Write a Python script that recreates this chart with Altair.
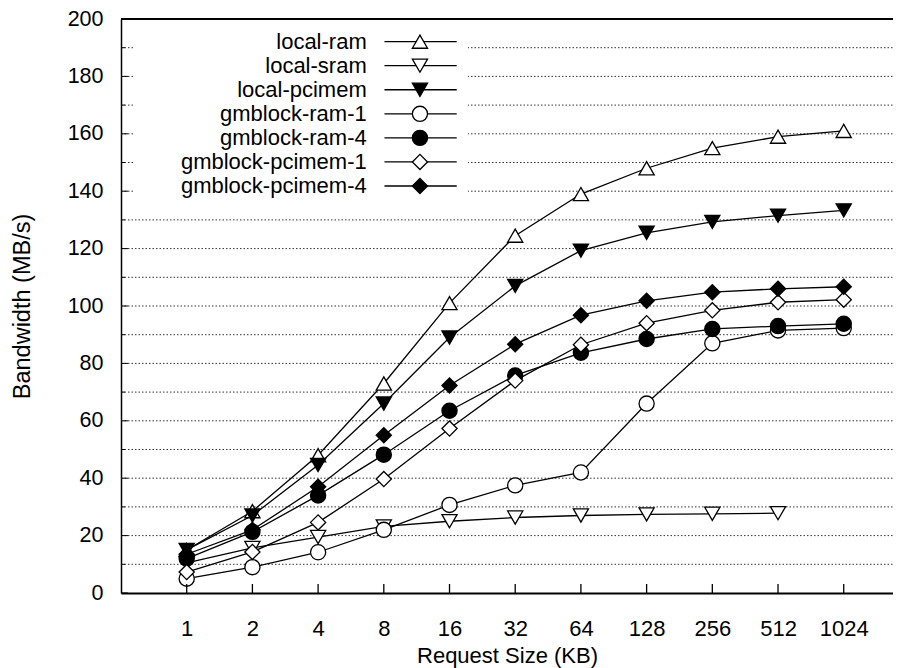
import altair as alt
import pandas as pd

# ---------------- data ----------------
sizes = ["1", "2", "4", "8", "16", "32", "64", "128", "256", "512", "1024"]
series_names = ["local-ram", "local-sram", "local-pcimem", "gmblock-ram-1",
                "gmblock-ram-4", "gmblock-pcimem-1", "gmblock-pcimem-4"]
local_ram = [15, 28.5, 48, 73, 101, 124.5, 139, 148, 155, 159, 161]
local_sram = [10.5, 15.7, 19.5, 23.2, 25, 26.3, 27, 27.4, 27.6, 27.8]
local_pcimem = [15, 27, 44.6, 66, 89, 107, 119.3, 125.5, 129.3, 131.5, 133.3]
gmblock_ram_1 = [5, 9, 14.2, 22, 30.7, 37.5, 42, 66, 87, 91.5, 92.3]
gmblock_ram_4 = [12, 21.3, 34, 48.2, 63.5, 75.8, 83.7, 88.5, 92, 93, 93.8]
gmblock_pcimem_1 = [7.3, 14.3, 24.6, 39.7, 57.3, 74, 86.5, 94, 98.5, 101.3, 102.2]
gmblock_pcimem_4 = [13.5, 22, 37, 55, 72.3, 86.7, 96.8, 101.8, 104.8, 106, 106.7]
series_values = [local_ram, local_sram, local_pcimem, gmblock_ram_1,
                 gmblock_ram_4, gmblock_pcimem_1, gmblock_pcimem_4]
y_label_values = list(range(0, 201, 20))
y_minor_values = list(range(10, 200, 20))
grid_values = list(range(10, 200, 10))

# ---------------- styles ----------------
shapes = ["triangle-up", "triangle-down", "triangle-down", "circle", "circle", "diamond", "diamond"]
fills = ["white", "white", "black", "white", "black", "white", "black"]
msizes = [230, 230, 230, 200, 200, 200, 200]
FONT = "Liberation Sans"
W, H = 772, 574

rows = []
for name, vals in zip(series_names, series_values):
    for i, v in enumerate(vals):
        rows.append({"series": name, "idx": i, "bw": v})
df = pd.DataFrame(rows)

# legend layout (in data units of the shared scales)
leg = pd.DataFrame({
    "series": series_names,
    "ly": [192.1 - 8.38 * k for k in range(len(series_names))],
})
leg["lx1"] = 3.01
leg["lx2"] = 4.11
leg["lm"] = 3.55
leg["lt"] = 2.74

xscale = alt.Scale(domain=[-1, 10.75], nice=False, zero=False)
yscale = alt.Scale(domain=[0, 200], nice=False)

label_expr = "[" + ",".join("'%s'" % s for s in sizes) + "][datum.value]"
X_AX = alt.Axis(values=list(range(len(sizes))), labelExpr=label_expr, title="Request Size (KB)",
                grid=False, ticks=False, domain=True, domainColor="black", domainWidth=2,
                labelFont=FONT, labelFontSize=22, labelColor="black", labelPadding=25,
                titleFont=FONT, titleFontSize=22, titleFontWeight="normal", titleColor="black",
                titleY=62, titleBaseline="middle")
Y_AX = alt.Axis(values=y_label_values, title="Bandwidth (MB/s)",
                grid=False, ticks=False, domain=True, domainColor="black", domainWidth=1.5,
                labelFont=FONT, labelFontSize=21.5, labelColor="black", labelPadding=18,
                titleFont=FONT, titleFontSize=23.5, titleFontWeight="normal", titleColor="black",
                titleX=-99, titleY=287, titleAngle=270, titleBaseline="middle", titleAlign="center")

shape_scale = alt.Scale(domain=series_names, range=shapes)
fill_scale = alt.Scale(domain=series_names, range=fills)
size_scale = alt.Scale(domain=series_names, range=msizes)

grid = alt.Chart(pd.DataFrame({"g": grid_values})).mark_rule(
    color="#333333", strokeWidth=1, strokeDash=[1.5, 2]
).encode(y=alt.Y("g:Q", scale=yscale, axis=Y_AX), x=alt.value(0), x2=alt.value(W))

legbg = alt.Chart(pd.DataFrame({"a": [-0.8], "b": [4.28], "c": [136], "d": [196.5]})).mark_rect(
    color="white"
).encode(x=alt.X("a:Q", scale=xscale, axis=X_AX), x2="b", y=alt.Y("c:Q", scale=yscale, axis=Y_AX), y2="d")

lines = alt.Chart(df).mark_line(color="black", strokeWidth=1.3).encode(
    x=alt.X("idx:Q", scale=xscale, axis=X_AX),
    y=alt.Y("bw:Q", scale=yscale, axis=Y_AX),
    detail="series:N",
    order="idx:Q",
)

points = alt.Chart(df).mark_point(filled=True, stroke="black", strokeWidth=1.3, opacity=1).encode(
    x=alt.X("idx:Q", scale=xscale, axis=X_AX),
    y=alt.Y("bw:Q", scale=yscale, axis=Y_AX),
    shape=alt.Shape("series:N", scale=shape_scale, legend=None),
    fill=alt.Fill("series:N", scale=fill_scale, legend=None),
    size=alt.Size("series:N", scale=size_scale, legend=None),
)

leg_lines = alt.Chart(leg).mark_rule(color="black", strokeWidth=1.3).encode(
    x=alt.X("lx1:Q", scale=xscale, axis=X_AX), x2="lx2",
    y=alt.Y("ly:Q", scale=yscale, axis=Y_AX),
)
leg_pts = alt.Chart(leg).mark_point(filled=True, stroke="black", strokeWidth=1.3, opacity=1).encode(
    x=alt.X("lm:Q", scale=xscale, axis=X_AX),
    y=alt.Y("ly:Q", scale=yscale, axis=Y_AX),
    shape=alt.Shape("series:N", scale=shape_scale, legend=None),
    fill=alt.Fill("series:N", scale=fill_scale, legend=None),
    size=alt.Size("series:N", scale=size_scale, legend=None),
)
leg_txt = alt.Chart(leg).mark_text(align="right", baseline="middle", font=FONT, fontSize=22,
                                   color="black").encode(
    x=alt.X("lt:Q", scale=xscale, axis=X_AX),
    y=alt.Y("ly:Q", scale=yscale, axis=Y_AX),
    text="series:N",
)

ytick_major = alt.Chart(pd.DataFrame({"v": y_label_values})).mark_rule(color="black", strokeWidth=1).encode(
    y=alt.Y("v:Q", scale=yscale, axis=Y_AX), x=alt.value(0), x2=alt.value(7))
ytick_minor = alt.Chart(pd.DataFrame({"v": y_minor_values})).mark_rule(color="black", strokeWidth=1).encode(
    y=alt.Y("v:Q", scale=yscale, axis=Y_AX), x=alt.value(0), x2=alt.value(4))
xtick = alt.Chart(pd.DataFrame({"i": list(range(len(sizes)))})).mark_rule(color="black", strokeWidth=1.3).encode(
    x=alt.X("i:Q", scale=xscale, axis=X_AX), y=alt.value(H), y2=alt.value(H - 9))
topline = alt.Chart(pd.DataFrame({"v": [200]})).mark_rule(color="black", strokeWidth=2).encode(
    y=alt.Y("v:Q", scale=yscale, axis=Y_AX), x=alt.value(0), x2=alt.value(W))

chart = alt.layer(
    grid, legbg, lines, points, leg_lines, leg_pts, leg_txt, ytick_major, ytick_minor, xtick, topline
).properties(
    width=W, height=H,
    autosize=alt.AutoSizeParams(type="none"),
    padding={"left": 113, "top": 11, "right": 0, "bottom": 75},
    background="white",
).configure_view(stroke=None)

chart.save("out.html", embed_options={"renderer": "svg", "actions": False})
